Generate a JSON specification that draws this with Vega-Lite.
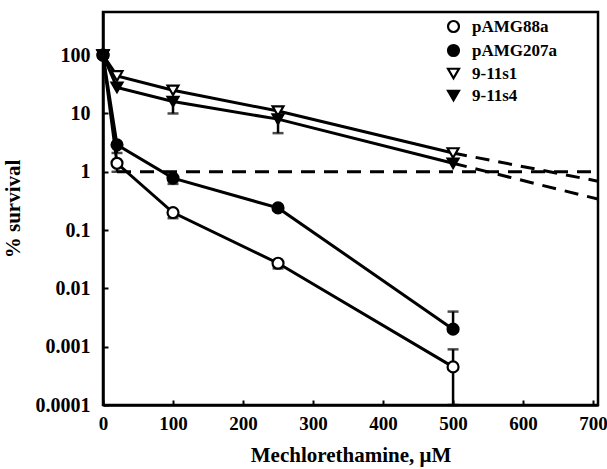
{
  "$schema": "https://vega.github.io/schema/vega-lite/v6.json",
  "width": 495,
  "height": 393,
  "autosize": {"type": "none"},
  "padding": {"left": 103, "top": 12, "right": 9, "bottom": 64},
  "background": "white",
  "config": {
    "view": {"stroke": "black", "strokeWidth": 2.5},
    "font": "Liberation Serif",
    "axis": {
      "grid": false,
      "domainColor": "black",
      "domainWidth": 2.5,
      "tickColor": "black",
      "tickWidth": 2,
      "tickSize": -5,
      "labelColor": "black",
      "labelFont": "Liberation Serif",
      "labelFontWeight": "bold",
      "labelFontSize": 20,
      "titleFont": "Liberation Serif",
      "titleFontWeight": "bold",
      "titleFontSize": 21,
      "titleColor": "black"
    }
  },
  "datasets": {
    "points": [
      {"series": "pAMG88a", "x": 0, "y": 100},
      {"series": "pAMG88a", "x": 20, "y": 1.4},
      {"series": "pAMG88a", "x": 100, "y": 0.2},
      {"series": "pAMG88a", "x": 250, "y": 0.027},
      {"series": "pAMG88a", "x": 500, "y": 0.00045},
      {"series": "pAMG207a", "x": 0, "y": 100},
      {"series": "pAMG207a", "x": 20, "y": 2.9},
      {"series": "pAMG207a", "x": 100, "y": 0.78},
      {"series": "pAMG207a", "x": 250, "y": 0.24},
      {"series": "pAMG207a", "x": 500, "y": 0.002},
      {"series": "9-11s1", "x": 0, "y": 100},
      {"series": "9-11s1", "x": 20, "y": 44},
      {"series": "9-11s1", "x": 100, "y": 25},
      {"series": "9-11s1", "x": 250, "y": 11},
      {"series": "9-11s1", "x": 500, "y": 2.1},
      {"series": "9-11s4", "x": 0, "y": 100},
      {"series": "9-11s4", "x": 20, "y": 28},
      {"series": "9-11s4", "x": 100, "y": 16},
      {"series": "9-11s4", "x": 250, "y": 8},
      {"series": "9-11s4", "x": 500, "y": 1.4}
    ],
    "errors": [
      {"series": "pAMG88a", "x": 20, "y0": 1.4, "y1": 1.0},
      {"series": "pAMG88a", "x": 100, "y0": 0.2, "y1": 0.16},
      {"series": "pAMG88a", "x": 250, "y0": 0.027, "y1": 0.022},
      {"series": "pAMG88a", "x": 500, "y0": 0.00045, "y1": 0.0009},
      {"series": "pAMG88a", "x": 500, "y0": 0.00045, "y1": 0.0001},
      {"series": "pAMG207a", "x": 20, "y0": 2.9, "y1": 2.1},
      {"series": "pAMG207a", "x": 100, "y0": 0.78, "y1": 0.62},
      {"series": "pAMG207a", "x": 500, "y0": 0.002, "y1": 0.004},
      {"series": "9-11s4", "x": 100, "y0": 16, "y1": 10},
      {"series": "9-11s4", "x": 250, "y0": 8, "y1": 4.6}
    ],
    "dashed": [
      {"line": "ref", "x": 20, "y": 1},
      {"line": "ref", "x": 707, "y": 1},
      {"line": "9-11s1", "x": 500, "y": 2.1},
      {"line": "9-11s1", "x": 707, "y": 0.69},
      {"line": "9-11s4", "x": 500, "y": 1.4},
      {"line": "9-11s4", "x": 707, "y": 0.34}
    ]
  },
  "layer": [
    {
      "data": {"name": "dashed"},
      "mark": {"type": "line", "color": "black", "strokeWidth": 3, "strokeDash": [14, 9], "clip": true},
      "encoding": {
        "x": {"field": "x", "type": "quantitative", "scale": {"domain": [0, 707], "nice": false, "zero": false},
          "axis": {"values": [0, 100, 200, 300, 400, 500, 600, 700], "title": "Mechlorethamine, μM", "labelPadding": 14, "labelFontSize": 19, "titlePadding": 11, "labelFlush": false}},
        "y": {"field": "y", "type": "quantitative", "scale": {"type": "log", "domain": [0.0001, 550], "nice": false},
          "axis": {"values": [0.0001, 0.001, 0.01, 0.1, 1, 10, 100], "format": "~g", "title": "% survival", "labelPadding": 18, "titlePadding": 12}},
        "detail": {"field": "line"}
      }
    },
    {
      "data": {"name": "points"},
      "mark": {"type": "line", "color": "black", "strokeWidth": 3},
      "encoding": {
        "x": {"field": "x", "type": "quantitative"},
        "y": {"field": "y", "type": "quantitative"},
        "detail": {"field": "series"}
      }
    },
    {
      "data": {"name": "errors"},
      "mark": {"type": "rule", "color": "black", "strokeWidth": 2.5},
      "encoding": {
        "x": {"field": "x", "type": "quantitative"},
        "y": {"field": "y0", "type": "quantitative"},
        "y2": {"field": "y1"}
      }
    },
    {
      "data": {"name": "errors"},
      "mark": {"type": "tick", "color": "black", "orient": "horizontal", "size": 11, "thickness": 2.5},
      "encoding": {
        "x": {"field": "x", "type": "quantitative"},
        "y": {"field": "y1", "type": "quantitative"}
      }
    },
    {
      "data": {"name": "points"},
      "mark": {"type": "point", "strokeWidth": 2.2, "size": 120, "opacity": 1, "filled": false},
      "encoding": {
        "x": {"field": "x", "type": "quantitative"},
        "y": {"field": "y", "type": "quantitative"},
        "shape": {"field": "series", "type": "nominal",
          "scale": {"domain": ["pAMG88a", "pAMG207a", "9-11s1", "9-11s4"], "range": ["circle", "circle", "triangle-down", "triangle-down"]},
          "legend": {"title": null, "orient": "none", "legendX": 342, "legendY": 6, "labelFont": "Liberation Serif", "labelFontWeight": "bold", "labelFontSize": 17, "labelColor": "black", "symbolStrokeWidth": 2.2, "symbolSize": 120, "rowPadding": 3, "labelOffset": 10}},
        "fill": {"field": "series", "type": "nominal",
          "scale": {"domain": ["pAMG88a", "pAMG207a", "9-11s1", "9-11s4"], "range": ["white", "black", "white", "black"]},
          "legend": {"title": null, "orient": "none", "legendX": 342, "legendY": 6, "labelFont": "Liberation Serif", "labelFontWeight": "bold", "labelFontSize": 17, "labelColor": "black", "symbolStrokeWidth": 2.2, "symbolSize": 120, "rowPadding": 3, "labelOffset": 10}},
        "stroke": {"field": "series", "type": "nominal",
          "scale": {"domain": ["pAMG88a", "pAMG207a", "9-11s1", "9-11s4"], "range": ["black", "black", "black", "black"]},
          "legend": {"title": null, "orient": "none", "legendX": 342, "legendY": 6, "labelFont": "Liberation Serif", "labelFontWeight": "bold", "labelFontSize": 17, "labelColor": "black", "symbolStrokeWidth": 2.2, "symbolSize": 120, "rowPadding": 3, "labelOffset": 10}}
      }
    }
  ]
}
